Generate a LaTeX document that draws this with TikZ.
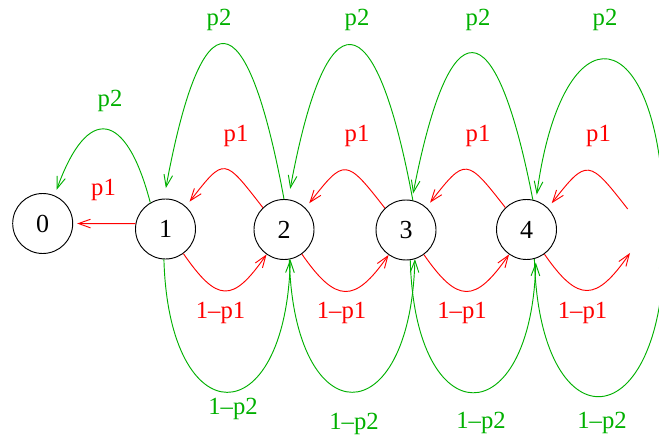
\documentclass[tikz,border=0pt]{standalone}
\usepackage{fontspec}
\setmainfont{Liberation Serif}
\usetikzlibrary{arrows.meta}
\definecolor{figgreen}{RGB}{0,176,0}
\definecolor{figred}{RGB}{255,0,0}

\begin{document}
\begin{tikzpicture}[
    x=0.75pt, y=-0.75pt,
    state/.style={circle, draw, line width=0.7pt, minimum size=45pt, inner sep=0pt, font=\fontsize{19.5}{21}\selectfont},
    tr/.style={draw=figred, line width=0.7pt, -{Straight Barb[length=9pt,width=6.5pt]}},
    tg/.style={draw=figgreen, line width=0.7pt, -{Straight Barb[length=9pt,width=6.5pt]}},
    lr/.style={text=figred, font=\fontsize{18.5}{20}\selectfont},
    lg/.style={text=figgreen, font=\fontsize{18.5}{20}\selectfont}
]
\useasboundingbox (0,0) rectangle (659,441);
\clip (0,0) rectangle (659,441);

% States
\node[state] (n0) at (42.7,223.5) {0};
\node[state] (n1) at (165.5,229) {1};
\node[state] (n2) at (284,229.5) {2};
\node[state] (n3) at (406,230) {3};
\node[state] (n4) at (526.5,229.5) {4};

% Open ends towards the next state
\coordinate (r5t) at (627.7,209);
\coordinate (r5b) at (630,253);
\coordinate (g5t) at (664,215);
\coordinate (g5b) at (664,255);

% p1 transitions (down one state)
\draw[tr, shorten >=3pt] (n1.170) -- (n0.east);
\draw[tr, shorten >=4.5pt] (n2.134) .. controls +(-39,-50) and +(39,-50) .. (n1.48);
\draw[tr, shorten >=4.5pt] (n3.134) .. controls +(-39,-50) and +(39,-50) .. (n2.45);
\draw[tr, shorten >=4.5pt] (n4.134) .. controls +(-39,-50) and +(39,-50) .. (n3.48);
\draw[tr, shorten >=4.5pt] (r5t) .. controls +(-39,-50) and +(39,-50) .. (n4.45);

% 1-p1 transitions (up one state)
\draw[tr] (n1.-54) .. controls +(34,49) and +(-34,49) .. (n2.-125);
\draw[tr] (n2.-54) .. controls +(34,49) and +(-34,49) .. (n3.-125);
\draw[tr] (n3.-54) .. controls +(34,49) and +(-34,49) .. (n4.-125);
\draw[tr] (n4.-54) .. controls +(34,49) and +(-34,49) .. (r5b);

% p2 transitions
\draw[tg, shorten >=4.5pt] (n1.120) .. controls +(-24,-92) and +(33,-92) .. (n0.67);
\draw[tg, shorten >=8pt] (n2.90) .. controls +(-38,-205) and +(38,-205) .. (n1.93);
\draw[tg, shorten >=8pt] (n3.77) .. controls +(-38,-205) and +(38,-205) .. (n2.82);
\draw[tg, shorten >=5pt] (n4.78) .. controls +(-38,-195) and +(38,-195) .. (n3.79);
\draw[tg, shorten >=4.5pt] (g5t) .. controls +(-5,-197) and +(27,-197) .. (n4.72);

% 1-p2 transitions
\draw[tg] (n1.-93) .. controls +(5,177) and +(-5,177) .. (n2.-78);
\draw[tg] (n2.-80) .. controls +(5,177) and +(-5,177) .. (n3.-73);
\draw[tg, shorten >=3pt] (n3.-82) .. controls +(5,177) and +(-5,177) .. (n4.-72);
\draw[tg] (n4.-75) .. controls +(5,186) and +(-5,186) .. (g5b);

% Labels
\node[lr] (a01) at (103.5,190) {p1};
\node[lr] (a12) at (236,136) {p1};
\node[lr] (a23) at (357,136) {p1};
\node[lr] (a34) at (478,136) {p1};
\node[lr] (a45) at (598.5,136) {p1};
\node[lr] (b12) at (220.5,312.5) {1--p1};
\node[lr] (b23) at (341.5,312.5) {1--p1};
\node[lr] (b34) at (462,312.5) {1--p1};
\node[lr] (b45) at (582.5,312.5) {1--p1};
\node[lg] (c01) at (110,101) {p2};
\node[lg] (c12) at (219,20) {p2};
\node[lg] (c23) at (357,20) {p2};
\node[lg] (c34) at (478,20) {p2};
\node[lg] (c45) at (605,20) {p2};
\node[lg] (d12) at (233,409) {1--p2};
\node[lg] (d23) at (354,424) {1--p2};
\node[lg] (d34) at (481,423) {1--p2};
\node[lg] (d45) at (602,423) {1--p2};
\end{tikzpicture}
\end{document}
